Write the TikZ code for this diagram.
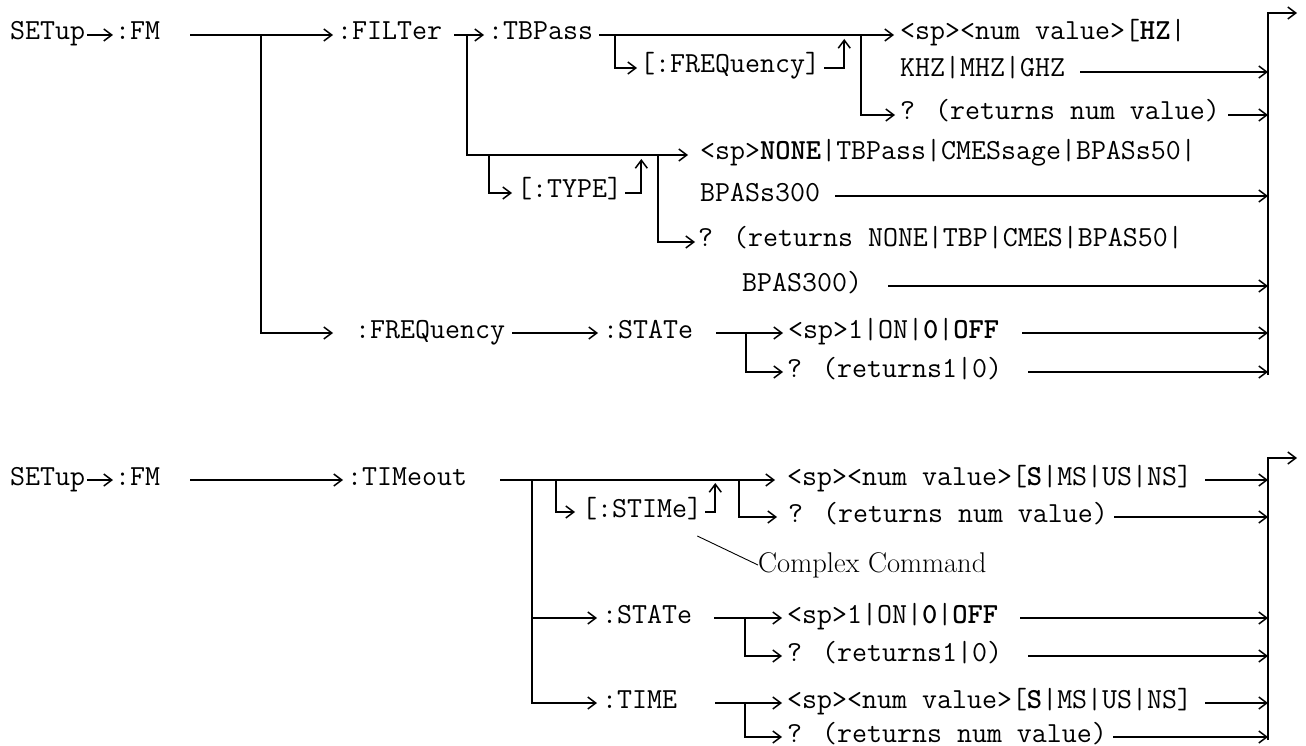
\documentclass[tikz,border=0pt]{standalone}
\usepackage{fontspec}
\usepackage{tikz}
\usetikzlibrary{positioning, arrows.meta}

\begin{document}
\begin{tikzpicture}[x=1pt, y=-1pt,
    cmd/.style={anchor=west, inner sep=0pt, text height=15pt, text depth=5pt,
                font=\ttfamily\fontsize{29.1}{34}\selectfont},
    note/.style={anchor=west, inner sep=0pt, font=\fontsize{28.5}{32}\selectfont},
    flow/.style={line width=1.8pt, -{Straight Barb[length=8pt, width=12pt, line width=1.5pt]}},
    callout/.style={line width=0.9pt}]
  \useasboundingbox (0,0) rectangle (1306,746);

  % upper diagram
  \node[cmd] (setupA) at (10,35) {SETup};
  \node[cmd] (fmA) at (115,35) {:FM};
  \node[cmd] (filter) at (337,35) {:FILTer};
  \node[cmd] (tbpass) at (488,35) {:TBPass};
  \node[cmd] (freqopt) at (640,68) {[:FREQuency]};
  \node[cmd] (hzval) at (900,35) {<sp><num value>[\textbf{HZ}|};
  \node[cmd] (hzmore) at (900,72) {KHZ|MHZ|GHZ};
  \node[cmd] (tbpquery) at (900,115) {? (returns num value)};
  \node[cmd] (typeopt) at (517,193) {[:TYPE]};
  \node[cmd] (typeval) at (700,155) {<sp>\textbf{NONE}|TBPass|CMESsage|BPASs50|};
  \node[cmd] (typemore) at (700,196) {BPASs300};
  \node[cmd] (typequery) at (698,242) {? (returns NONE|TBP|CMES|BPAS50|};
  \node[cmd] (typeqmore) at (742,286) {BPAS300)};
  \node[cmd] (freq) at (355,333) {:FREQuency};
  \node[cmd] (stateA) at (603,333) {:STATe};
  \node[cmd] (onoffA) at (788,333) {<sp>1|ON|\textbf{0}|\textbf{OFF}};
  \node[cmd] (stateqA) at (787,372) {? (returns1|0)};
  \coordinate (barA) at (1268,13);
  \coordinate (splitA) at (261,35);
  \coordinate (splitF) at (467,35);
  \coordinate (splitT) at (615,35);
  \coordinate (splitQ) at (861,35);
  \coordinate (splitY) at (489,155);
  \coordinate (splitZ) at (658,155);
  \coordinate (splitS) at (746,333);

  \draw[flow] ([xshift=2pt]setupA.east) -- ([xshift=-2pt]fmA.west);
  \draw[flow] ([xshift=30pt]fmA.east) -- ([xshift=-4pt]filter.west);
  \draw[flow] (splitA) |- ([xshift=-22pt]freq.west);
  \draw[flow] ([xshift=12pt]filter.east) -- ([xshift=-4pt]tbpass.west);
  \draw[flow] (splitF) |- ([xshift=-12pt]typeval.west);
  \draw[flow] ([xshift=6pt]tbpass.east) -- ([xshift=-6pt]hzval.west);
  \draw[flow] (splitT) |- ([xshift=-3pt]freqopt.west);
  \draw[flow] ([xshift=4pt]freqopt.east) -| ([xshift=24pt, yshift=29pt]freqopt.east);
  \draw[flow] (splitQ) |- ([xshift=-5pt]tbpquery.west);
  \draw[flow] (splitY) |- ([xshift=-5pt]typeopt.west);
  \draw[flow] ([xshift=3pt]typeopt.east) -| ([xshift=19pt, yshift=34pt]typeopt.east);
  \draw[flow] (splitZ) |- ([xshift=-3pt]typequery.west);
  \draw[flow] ([xshift=7pt]freq.east) -- ([xshift=-5pt]stateA.west);
  \draw[flow] ([xshift=23pt]stateA.east) -- ([xshift=-5pt]onoffA.west);
  \draw[flow] (splitS) |- ([xshift=-4pt]stateqA.west);

  \draw[flow] ([xshift=15pt]hzmore.east) -- (hzmore.east -| barA);
  \draw[flow] ([xshift=8pt]tbpquery.east) -- (tbpquery.east -| barA);
  \draw[flow] ([xshift=15pt]typemore.east) -- (typemore.east -| barA);
  \draw[flow] ([xshift=26pt]typeqmore.east) -- (typeqmore.east -| barA);
  \draw[flow] ([xshift=23pt]onoffA.east) -- (onoffA.east -| barA);
  \draw[flow] ([xshift=26pt]stateqA.east) -- (stateqA.east -| barA);
  \draw[flow] ([yshift=-3pt]barA |- stateqA.east) -- (barA) -- ++(29,0);

  % lower diagram
  \node[cmd] (setupB) at (10,480) {SETup};
  \node[cmd] (fmB) at (115,480) {:FM};
  \node[cmd] (timeout) at (347,480) {:TIMeout};
  \node[cmd] (stime) at (582,512) {[:STIMe]};
  \node[cmd] (stimeval) at (787,480) {<sp><num value>[\textbf{S}|MS|US|NS]};
  \node[cmd] (stimeq) at (788,517) {? (returns num value)};
  \node[note] (cplx) at (758,565) {Complex Command};
  \node[cmd] (stateB) at (602,618) {:STATe};
  \node[cmd] (onoffB) at (787,618) {<sp>1|ON|\textbf{0}|\textbf{OFF}};
  \node[cmd] (stateqB) at (787,656) {? (returns1|0)};
  \node[cmd] (timeB) at (602,703) {:TIME};
  \node[cmd] (timevalB) at (787,703) {<sp><num value>[\textbf{S}|MS|US|NS]};
  \node[cmd] (timeqB) at (787,737) {? (returns num value)};
  \coordinate (barB) at (1268,458);
  \coordinate (splitM) at (532,480);
  \coordinate (splitN) at (556,480);
  \coordinate (splitO) at (739,480);
  \coordinate (splitP) at (745,618);
  \coordinate (splitR) at (745,703);

  \draw[flow] ([xshift=2pt]setupB.east) -- ([xshift=-2pt]fmB.west);
  \draw[flow] ([xshift=30pt]fmB.east) -- ([xshift=-4pt]timeout.west);
  \draw[flow] ([xshift=33pt]timeout.east) -- ([xshift=-12pt]stimeval.west);
  \draw[flow] (splitM) |- ([xshift=-5pt]stateB.west);
  \draw[flow] (splitM) |- ([xshift=-5pt]timeB.west);
  \draw[flow] (splitN) |- ([xshift=-7pt]stime.west);
  \draw[flow] ([xshift=3pt]stime.east) -| ([xshift=13pt, yshift=29pt]stime.east);
  \draw[flow] (splitO) |- ([xshift=-11pt]stimeq.west);
  \draw[callout] ([xshift=-5pt, yshift=-24pt]stime.east) -- (cplx.west);
  \draw[flow] ([xshift=22pt]stateB.east) -- ([xshift=-5pt]onoffB.west);
  \draw[flow] (splitP) |- ([xshift=-5pt]stateqB.west);
  \draw[flow] ([xshift=38pt]timeB.east) -- ([xshift=-5pt]timevalB.west);
  \draw[flow] (splitR) |- ([xshift=-5pt]timeqB.west);

  \draw[flow] ([xshift=13pt]stimeval.east) -- (stimeval.east -| barB);
  \draw[flow] ([xshift=6pt]stimeq.east) -- (stimeq.east -| barB);
  \draw[flow] ([xshift=22pt]onoffB.east) -- (onoffB.east -| barB);
  \draw[flow] ([xshift=26pt]stateqB.east) -- (stateqB.east -| barB);
  \draw[flow] ([xshift=13pt]timevalB.east) -- (timevalB.east -| barB);
  \draw[flow] ([xshift=6pt]timeqB.east) -- (timeqB.east -| barB);
  \draw[flow] ([yshift=-3pt]barB |- timeqB.east) -- (barB) -- ++(29,0);
\end{tikzpicture}
\end{document}
